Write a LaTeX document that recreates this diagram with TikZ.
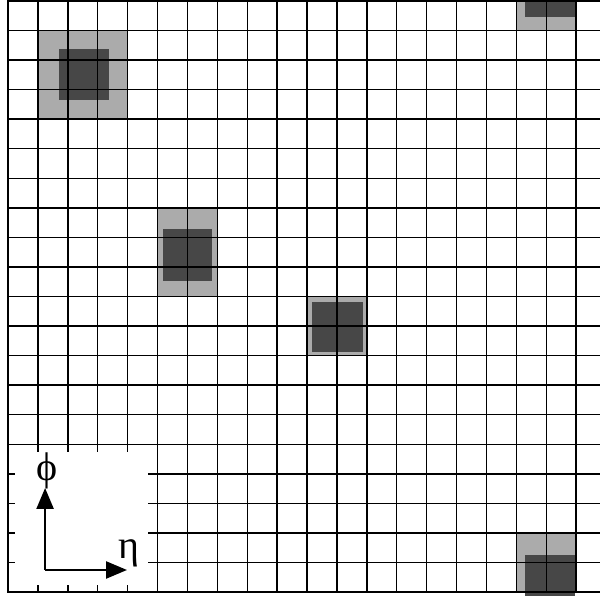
\documentclass[tikz,border=0pt]{standalone}
\usepackage{fontspec}
\setmainfont{Liberation Serif}
\usetikzlibrary{
    positioning,
    arrows.meta
}

\begin{document}
\begin{tikzpicture}
[
    x=29.9pt,
    y=29.55pt,
    cellline/.style={
        draw=black,
        line width=1.4pt
    },
    border/.style={
        draw=black,
        line width=2.2pt
    },
    tower/.style={
        fill=black!33
    },
    core/.style={
        fill=black!72
    },
    axisarrow/.style={
        -{Triangle[length=21pt,width=17pt]},
        line width=2.4pt
    },
    axislabel/.style={
        inner sep=0pt,
        font=\fontsize{40}{40}\selectfont
    }
]


% =====================
% FRAME
% =====================

\path[use as bounding box, clip]
(-0.2676,-0.1015)
rectangle
(19.799,20.034);

\fill[white]
(-0.2676,-0.1015)
rectangle
(19.799,20.034);


% =====================
% TOWERS
% =====================

\fill[tower] (1,16) rectangle (4,19);
\fill[core] (1.72,16.65) rectangle (3.38,18.38);

\fill[tower] (5,10) rectangle (7,13);
\fill[core] (5.18,10.52) rectangle (6.82,12.28);

\fill[tower] (10,8) rectangle (12,10);
\fill[core] (10.17,8.12) rectangle (11.87,9.81);

% wraps round in phi
\fill[tower] (17,19) rectangle (19,21);
\fill[core] (17.29,19.46) rectangle (18.96,21.25);

\fill[tower] (17,0) rectangle (19,2);
\fill[core] (17.29,-0.54) rectangle (18.96,1.25);


% =====================
% CELL GRID
% =====================

\foreach \i in {1,...,19}
{
    \draw[cellline] (\i,0) -- (\i,20);
    \draw[cellline] (0,\i) -- (20,\i);
}

\draw[border]
(0,0)
rectangle
(20,20);


% =====================
% AXES
% =====================

\fill[white]
(0.22,0.24)
rectangle
(4.67,4.74);

\coordinate (orig) at (1.24,0.745);
\coordinate (phitip) at (1.24,3.52);
\coordinate (etatip) at (3.98,0.745);

\draw[axisarrow]
(orig)
--
(phitip);

\draw[axisarrow]
(orig)
--
(etatip);

\node[
axislabel
]
(phi)
at (1.31,4.1)
{ϕ};

\node[
axislabel
]
(eta)
at (4.05,1.3)
{η};


\end{tikzpicture}
\end{document}
